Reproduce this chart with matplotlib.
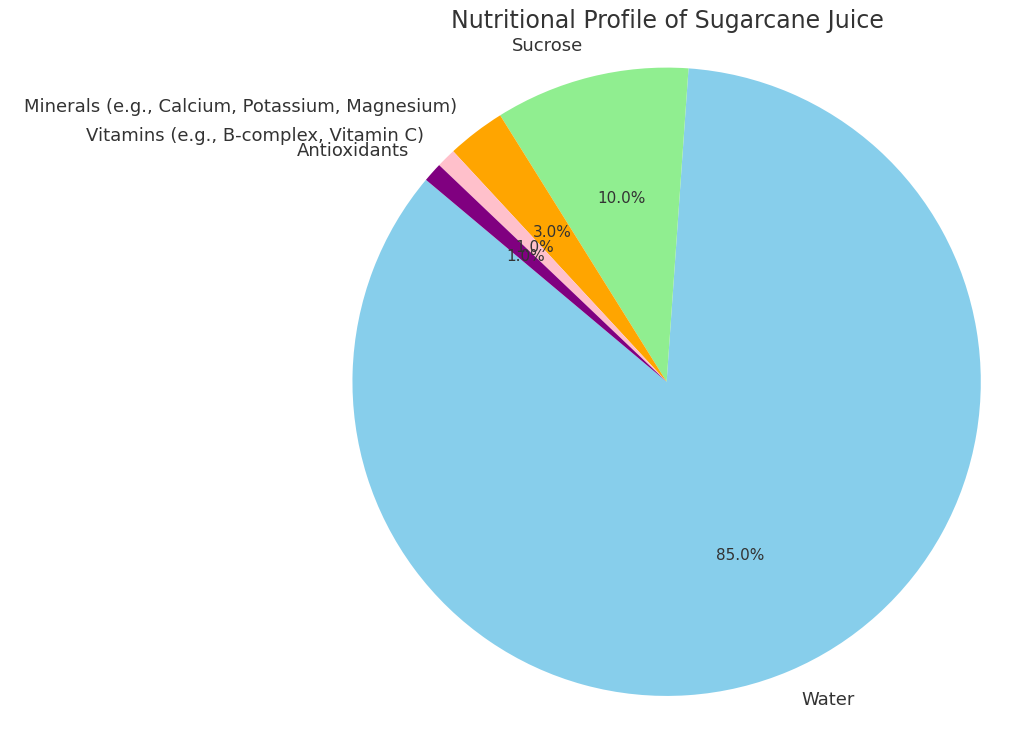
import matplotlib.pyplot as plt

labels = ['Water', 'Sucrose', 'Minerals (e.g., Calcium, Potassium, Magnesium)',
          'Vitamins (e.g., B-complex, Vitamin C)', 'Antioxidants']
sizes = [85, 10, 3, 1, 1]
colors = ['skyblue', 'lightgreen', 'orange', 'pink', 'purple']

fig = plt.figure(figsize=(10.24, 7.37), dpi=100)
w, h = 0.767, 1.066
ax = fig.add_axes([0.651 - w / 2, 0.482 - h / 2, w, h])
wedges, texts, autotexts = ax.pie(sizes, labels=labels, colors=colors,
                                  autopct='%1.1f%%', startangle=140,
                                  textprops={'color': '#333333', 'fontsize': 13})
for t in autotexts:
    t.set_fontsize(11)
ax.set_aspect('equal')
fig.text(0.652, 0.971, 'Nutritional Profile of Sugarcane Juice', ha='center', va='center',
         fontsize=17, color='#333333')

plt.savefig('out.png', dpi=100)
